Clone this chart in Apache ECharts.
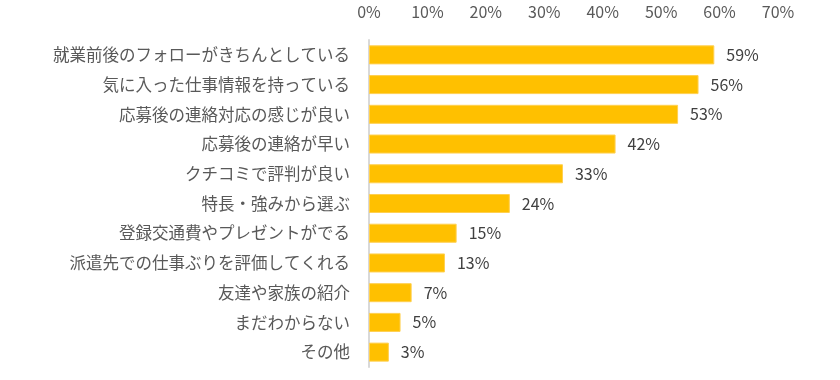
<!DOCTYPE html>
<html><head><meta charset="utf-8">
<script src="https://cdn.jsdelivr.net/npm/echarts@6/dist/echarts.min.js"></script>
<style>html,body{margin:0;padding:0;background:#fff}#c{width:840px;height:380px}</style>
</head><body><div id="c"></div>
<script>
const categories = ["就業前後のフォローがきちんとしている","気に入った仕事情報を持っている","応募後の連絡対応の感じが良い","応募後の連絡が早い","クチコミで評判が良い","特長・強みから選ぶ","登録交通費やプレゼントがでる","派遣先での仕事ぶりを評価してくれる","友達や家族の紹介","まだわからない","その他"];
const values = [59.1,56.4,52.9,42.2,33.2,24.1,15.0,13.0,7.3,5.4,3.4];
const tickFormat = "{value}%";

const chart = echarts.init(document.getElementById('c'), null, {renderer:'canvas'});
chart.setOption({
  animation:false,
  grid:{left:369,right:62,top:40,bottom:13},
  xAxis:{type:'value',position:'top',min:0,max:70,interval:10,
    axisLine:{show:false},axisTick:{show:false},splitLine:{show:false},
    axisLabel:{formatter:tickFormat,color:'#595959',fontSize:16,margin:20,fontFamily:'Noto Sans CJK JP'}},
  yAxis:{type:'category',inverse:true,data:categories,
    axisLine:{show:true,lineStyle:{color:'#d9d9d9',width:2}},axisTick:{show:false},
    axisLabel:{color:'#595959',fontSize:16.5,margin:19,fontFamily:'Noto Sans CJK JP'}},
  series:[{type:'bar',data:values,barCategoryGap:'36%',
    itemStyle:{color:'#FFC000',borderColor:'#FFD050',borderWidth:1},
    label:{show:true,position:'right',distance:12,formatter:p=>Math.round(p.value)+'%',color:'#404040',fontSize:16,fontFamily:'Noto Sans CJK JP'}}]
});
</script></body></html>
